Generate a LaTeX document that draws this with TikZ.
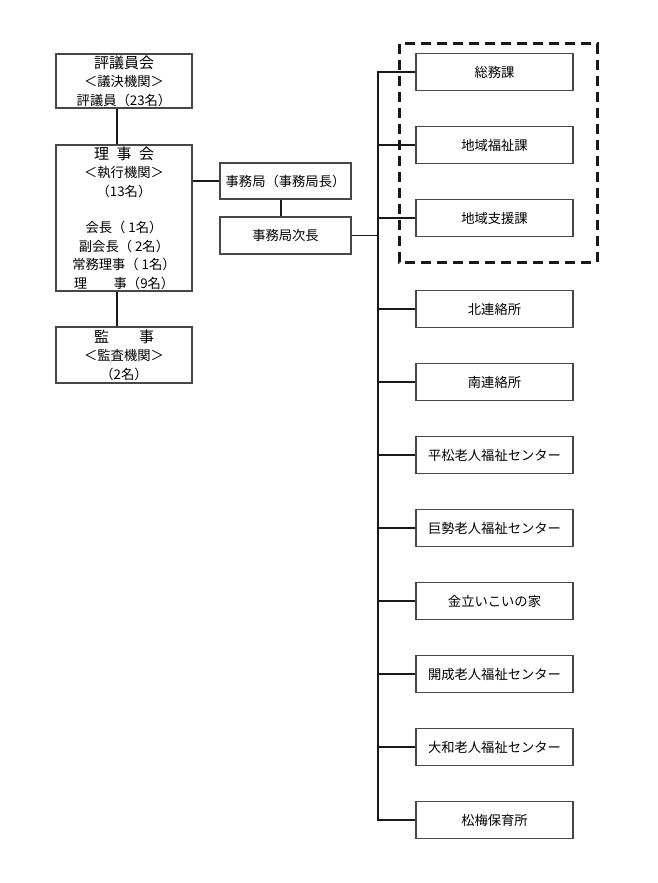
\documentclass[tikz,border=0pt]{standalone}
\usepackage{fontspec}
\setmainfont{Noto Sans CJK JP}
\usepackage{tikz}
\usetikzlibrary{calc}
\colorlet{boxline} {black!72}
\colorlet{linkline}{black!90}
\newcommand\bodysize{\fontsize{13.3}{18.4}\selectfont}
\newcommand\headsize{\fontsize{15}{18.4}\selectfont}
\tikzset{
  orgbox/.style={draw=boxline, line width=1.2pt, fill=white, align=center,
    inner sep=0pt, font=\bodysize},
  link/.style={draw=linkline, line width=1.2pt},
  dashframe/.style={draw=black!90, line width=3pt, dash pattern=on 10pt off 6pt},
}

\begin{document}
\begin{tikzpicture}[x=1pt, y=-1pt,
  board/.style={orgbox, minimum width=136pt},
  office/.style={orgbox, minimum width=131pt, minimum height=36pt},
  unit/.style={orgbox, minimum width=157pt, minimum height=37pt}]
\useasboundingbox (0,0) rectangle (657,883);
% left column
\node[board, minimum height=54pt] (hyogi) at (124,81)
  {{\headsize 評議員会}\\＜議決機関＞\\評議員（23名）};
\node[board, minimum height=146pt] (riji) at (124,218)
  {{\headsize 理\hspace{0.5em}事\hspace{0.5em}会}\\＜執行機関＞\\（13名）\\[18.4pt]
   会長（ 1名）\\副会長（ 2名）\\常務理事（ 1名）\\理　　事（9名）};
\node[board, minimum height=56pt] (kanji) at (124,355)
  {{\headsize 監\hspace{2em}事}\\＜監査機関＞\\（2名）};
% secretariat
\node[office] (jimu) at (285.5,181) {事務局（事務局長）};
\node[office, minimum height=37pt] (jicho) at (285.5,235.5) {事務局次長};
% sections and branches
\node[unit] (somu)   at (494.5,72)  {総務課};
\node[unit] (fukushi) at (494.5,145) {地域福祉課};
\node[unit] (shien)  at (494.5,218) {地域支援課};
\node[unit] (kita)   at (494.5,309) {北連絡所};
\node[unit] (minami) at (494.5,382) {南連絡所};
\node[unit] (hiramatsu) at (494.5,455) {平松老人福祉センター};
\node[unit] (kose)   at (494.5,528) {巨勢老人福祉センター};
\node[unit] (kinryu) at (494.5,601) {金立いこいの家};
\node[unit] (kaisei) at (494.5,674) {開成老人福祉センター};
\node[unit] (yamato) at (494.5,747) {大和老人福祉センター};
\node[unit] (shobai) at (494.5,820) {松梅保育所};
\coordinate (trunk) at (378,0);
% dashed frame round the three sections
\draw[dashframe] (399,44) rectangle (597,262);
% connectors
\draw[link] ([xshift=-7pt]hyogi.south) -- ([xshift=-7pt]hyogi.south |- riji.north);
\draw[link] ([xshift=-7pt]riji.south) -- ([xshift=-7pt]riji.south |- kanji.north);
\draw[link] (jimu.west) -- (jimu.west -| riji.east);
\draw[link] ([xshift=-4.5pt]jimu.south) -- ([xshift=-4.5pt]jimu.south |- jicho.north);
\draw[link] (jicho.east) -- (jicho.east -| trunk);
\draw[link] (somu.west) -- (somu.west -| trunk) -- (shobai.west -| trunk) -- (shobai.west);
\draw[link] (fukushi.west) -- (fukushi.west -| trunk);
\draw[link] (shien.west) -- (shien.west -| trunk);
\draw[link] (kita.west) -- (kita.west -| trunk);
\draw[link] (minami.west) -- (minami.west -| trunk);
\draw[link] (hiramatsu.west) -- (hiramatsu.west -| trunk);
\draw[link] (kose.west) -- (kose.west -| trunk);
\draw[link] (kinryu.west) -- (kinryu.west -| trunk);
\draw[link] (kaisei.west) -- (kaisei.west -| trunk);
\draw[link] (yamato.west) -- (yamato.west -| trunk);
\end{tikzpicture}
\end{document}
